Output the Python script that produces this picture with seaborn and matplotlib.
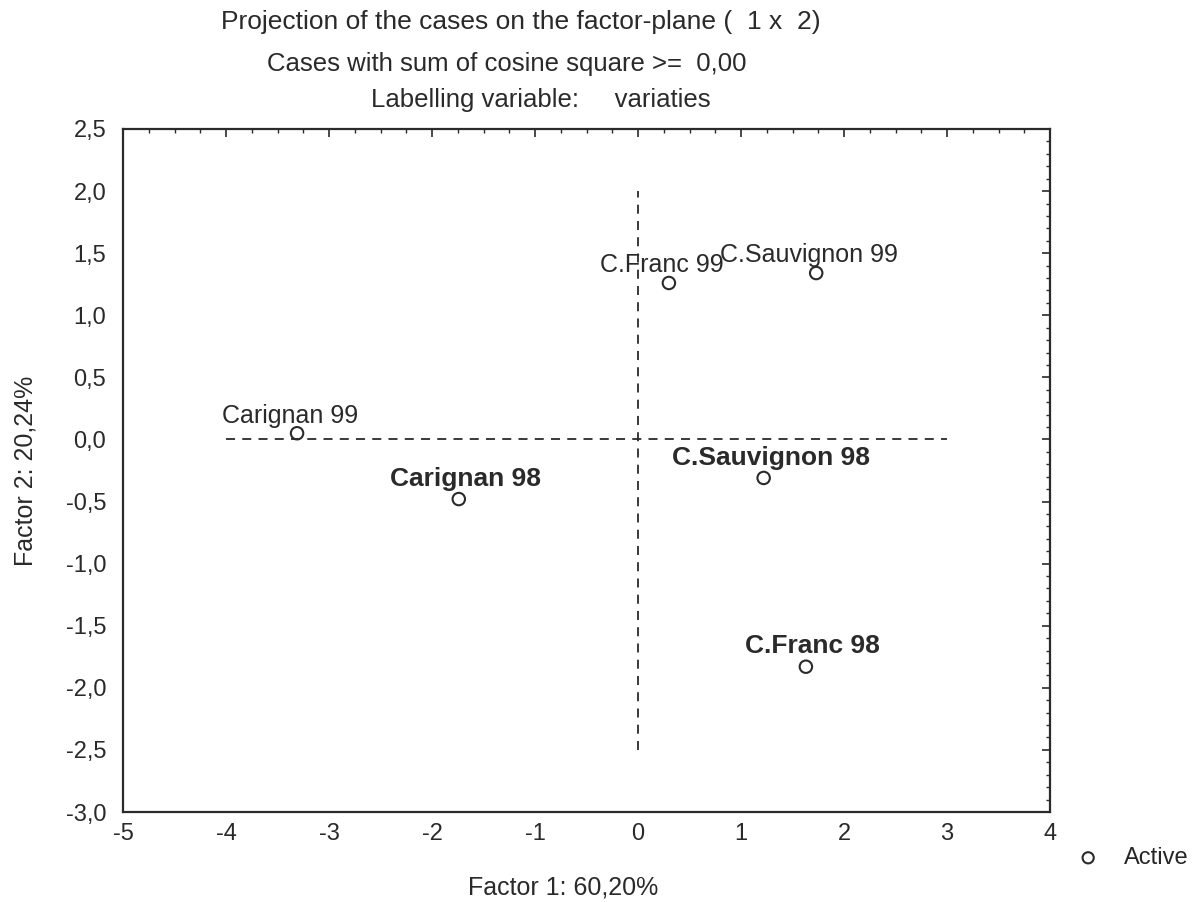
import pandas as pd
import matplotlib.pyplot as plt
import seaborn as sns
from matplotlib.ticker import MultipleLocator, FuncFormatter


# DATA

names = ["Carignan 99", "Carignan 98", "C.Franc 99", "C.Sauvignon 99", "C.Sauvignon 98", "C.Franc 98"]
factor1 = [-3.31, -1.74, 0.30, 1.73, 1.22, 1.63]
factor2 = [0.05, -0.48, 1.26, 1.34, -0.31, -1.83]
bold = [False, True, False, False, True, True]

x_ticks = [-5, -4, -3, -2, -1, 0, 1, 2, 3, 4]
y_ticks = [-3.0, -2.5, -2.0, -1.5, -1.0, -0.5, 0.0, 0.5, 1.0, 1.5, 2.0, 2.5]

df = pd.DataFrame({"name": names, "f1": factor1, "f2": factor2, "bold": bold})

INK = "#2a2a2a"
W, H = 1196, 902


# PLOT

sns.set_theme(style="white")
plt.rcParams["font.family"] = ["Liberation Sans", "DejaVu Sans"]
plt.rcParams["axes.unicode_minus"] = False

fig = plt.figure(figsize=(W / 100, H / 100), dpi=100)
# box from pixel (123,129) to (1050,812)
ax = fig.add_axes([123 / W, 1 - 812 / H, (1050 - 123) / W, (812 - 129) / H])

# reference lines through the origin
ax.plot([-4, 3], [0, 0], ls=(0, (5, 4)), color=INK, lw=1.3)
ax.plot([0, 0], [-2.5, 2.0], ls=(0, (5, 4)), color=INK, lw=1.3)

sns.scatterplot(data=df, x="f1", y="f2", ax=ax, marker="o", s=80,
                facecolors="none", edgecolors=INK, linewidths=1.5,
                label="Active", legend=False, zorder=3)

for _, r in df.iterrows():
    if r["bold"]:
        ax.annotate(r["name"], (r["f1"], r["f2"]), xytext=(5, 6), textcoords="offset points",
                    ha="center", va="bottom", fontsize=19, color=INK, fontweight="bold")
    else:
        ax.annotate(r["name"], (r["f1"], r["f2"]), xytext=(-5, 4), textcoords="offset points",
                    ha="center", va="bottom", fontsize=18, color=INK)

ax.set_xlim(-5, 4)
ax.set_ylim(-3, 2.5)
ax.set_xticks(x_ticks)
ax.set_yticks(y_ticks)
ax.xaxis.set_minor_locator(MultipleLocator(0.25))
ax.yaxis.set_minor_locator(MultipleLocator(0.1))
ax.xaxis.set_major_formatter(FuncFormatter(lambda v, p: f"{v:.0f}"))
ax.yaxis.set_major_formatter(FuncFormatter(lambda v, p: f"{v:.1f}".replace(".", ",")))
ax.tick_params(which="both", direction="in", top=True, right=True, colors=INK, labelsize=17)
ax.tick_params(axis="y", pad=12)
ax.tick_params(axis="x", pad=8)
ax.tick_params(which="major", length=6, width=1.2)
ax.tick_params(which="minor", length=3, width=1.0)
for s in ax.spines.values():
    s.set_color(INK)
    s.set_linewidth(1.6)

ax.set_xlabel("Factor 1: 60,20%", fontsize=18, color=INK)
ax.xaxis.set_label_coords((563 - 123) / (1050 - 123), -(876 - 812) / (812 - 129))
ax.set_ylabel("Factor 2: 20,24%", fontsize=18, color=INK)
ax.yaxis.set_label_coords(-(123 - 38) / (1050 - 123), 0.5)

fig.text(521 / W, 1 - 22 / H, "Projection of the cases on the factor-plane (  1 x  2)",
         ha="center", va="center", fontsize=19, color=INK)
fig.text(507 / W, 1 - 64 / H, "Cases with sum of cosine square >=  0,00",
         ha="center", va="center", fontsize=18.5, color=INK)
fig.text(541 / W, 1 - 100 / H, "Labelling variable:     variaties",
         ha="center", va="center", fontsize=18.5, color=INK)

handles, labels = ax.get_legend_handles_labels()
ax.legend(handles, labels, loc="center left",
          bbox_to_anchor=(1074 / W, 1 - 858 / H), bbox_transform=fig.transFigure,
          frameon=False, fontsize=17, handletextpad=0.9, handlelength=1.2,
          markerscale=0.9, borderaxespad=0, borderpad=0)

plt.savefig("out.png", dpi=100)
plt.close()
